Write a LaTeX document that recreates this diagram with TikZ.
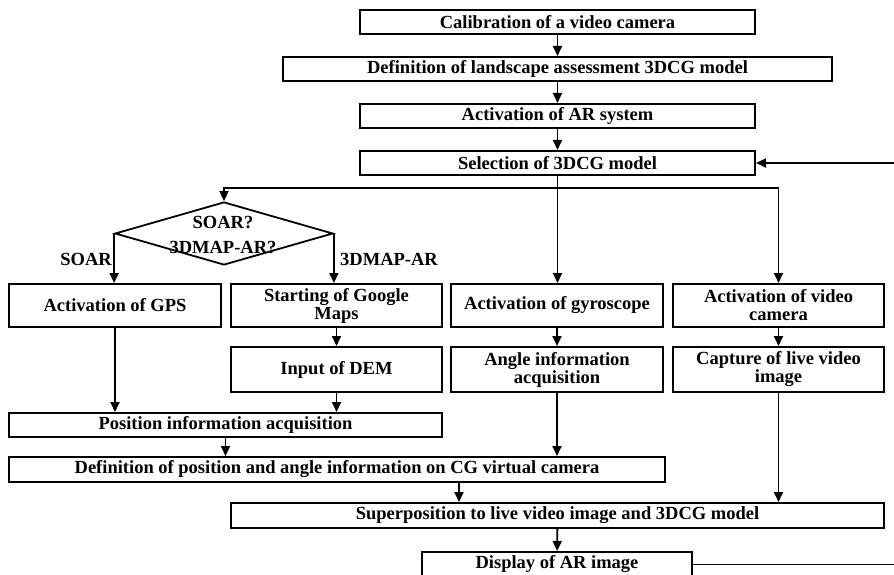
\documentclass[tikz,border=0pt]{standalone}
\usepackage{fontspec}
\setmainfont{Liberation Serif}
\usetikzlibrary{arrows.meta,shapes.geometric}
\begin{document}
\begin{tikzpicture}[x=1pt,y=-1pt,
  txt/.style={font=\fontsize{18.5}{18}\selectfont\bfseries},
  box/.style={txt, draw, line width=2pt, inner sep=0pt, align=center},
  arr/.style={line width=1.8pt, -{Triangle[length=10pt,width=9pt]}},
  ln/.style={line width=1.8pt},
  lab/.style={txt, inner sep=0pt}]
\useasboundingbox (0,0) rectangle (894,575);
% main column
\node[box, minimum width=395, minimum height=24] (cal) at (557.5,22) {Calibration of a video camera};
\node[box, minimum width=549, minimum height=24] (def) at (557.5,69) {Definition of landscape assessment 3DCG model};
\node[box, minimum width=395, minimum height=24] (ar) at (557.5,116) {Activation of AR system};
\node[box, minimum width=395, minimum height=24] (sel) at (557.5,163) {Selection of 3DCG model};
% decision
\node[draw, diamond, line width=1.8pt, minimum width=218, minimum height=63, inner sep=0pt] (dia) at (224,233.5) {};
\node[lab] (dq1) at (223,223) {SOAR?};
\node[lab] (dq2) at (223,248) {3DMAP-AR?};
\node[lab, anchor=east] (lsoar) at (112,259) {SOAR};
\node[lab, anchor=west] (l3d) at (340,259) {3DMAP-AR};
% first row
\node[box, minimum width=212, minimum height=43] (gps) at (115,305.5) {Activation of GPS};
\node[box, minimum width=211, minimum height=43] (goog) at (336.5,305.5) {Starting of Google\\Maps};
\node[box, minimum width=212, minimum height=43] (gyro) at (557,305.5) {Activation of gyroscope};
\node[box, minimum width=211, minimum height=43] (vid) at (778.5,305.5) {Activation of video\\camera};
% second row
\node[box, minimum width=211, minimum height=45] (dem) at (336.5,369.5) {Input of DEM};
\node[box, minimum width=212, minimum height=45] (ang) at (557,369.5) {Angle information\\acquisition};
\node[box, minimum width=211, minimum height=45] (cap) at (778.5,369.5) {Capture of live video\\image};
% lower
\node[box, minimum width=433, minimum height=24] (pos) at (225.5,425) {Position information acquisition};
\node[box, minimum width=656, minimum height=25] (dpos) at (337,469.5) {Definition of position and angle information on CG virtual camera};
\node[box, minimum width=653, minimum height=25] (sup) at (557.5,515.5) {Superposition to live video image and 3DCG model};
\node[box, minimum width=270, minimum height=25] (disp) at (557,564.5) {Display of AR image};
% connectors
\draw[arr] (cal) -- (def);
\draw[arr] (def) -- (ar);
\draw[arr] (ar) -- (sel);
\coordinate (br) at (557.5,188);
\draw[arr] (sel.south) -- (sel.south |- gyro.north);
\draw[arr] (br) -| (dia.north);
\draw[arr] (br) -| (vid.north);
\draw[arr] (dia.west) -- (dia.west |- gps.north);
\draw[arr] (dia.east) -- (dia.east |- goog.north);
\draw[arr] (goog) -- (dem);
\draw[arr] (gyro) -- (ang);
\draw[arr] (vid) -- (cap);
\draw[arr] (gps.south) -- (gps.south |- pos.north);
\draw[arr] (dem.south) -- (dem.south |- pos.north);
\draw[arr] (pos.south) -- (pos.south |- dpos.north);
\draw[arr] (ang.south) -- (ang.south |- dpos.north);
\draw[arr] ([xshift=122pt]dpos.south) -- ([xshift=122pt]dpos.south |- sup.north);
\draw[arr] (cap.south) -- (cap.south |- sup.north);
\draw[arr] (sup) -- (disp);
\coordinate (re1) at (894,564.5);
\coordinate (re2) at (894,163);
\draw[ln] (disp.east) -- (re1);
\draw[arr] (re2) -- (sel.east);
\end{tikzpicture}
\end{document}
